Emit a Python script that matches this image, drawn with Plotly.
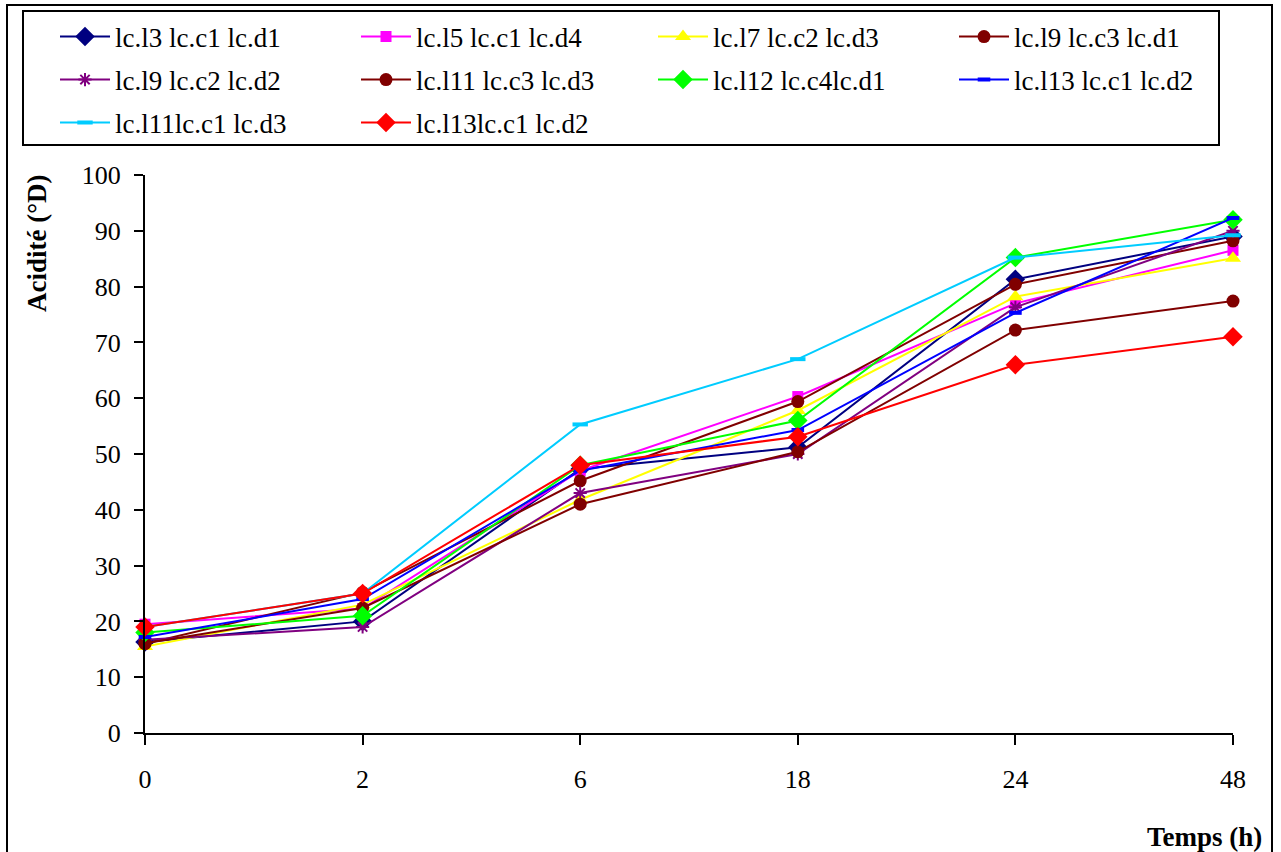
import plotly.graph_objects as go

W, H = 1281, 852
# plot-area pixel frame
L, R, T, B = 145, 1233, 175, 733

times = ["0", "2", "6", "18", "24", "48"]
names = ["lc.l3 lc.c1 lc.d1", "lc.l5 lc.c1 lc.d4", "lc.l7 lc.c2 lc.d3", "lc.l9 lc.c3 lc.d1",
         "lc.l9 lc.c2 lc.d2", "lc.l11 lc.c3 lc.d3", "lc.l12 lc.c4lc.d1", "lc.l13 lc.c1 lc.d2",
         "lc.l11lc.c1 lc.d3", "lc.l13lc.c1 lc.d2"]

s1 = [16.3, 20.0, 47.3, 51.2, 81.3, 89.0]
s2 = [19.5, 22.3, 47.0, 60.3, 77.0, 86.5]
s3 = [15.5, 23.0, 41.8, 57.8, 78.2, 85.1]
s4 = [16.0, 25.2, 45.2, 59.4, 80.4, 88.2]
s5 = [16.7, 19.0, 43.0, 50.0, 76.3, 90.0]
s6 = [16.1, 22.4, 41.0, 50.4, 72.2, 77.4]
s7 = [18.0, 21.0, 48.0, 56.0, 85.2, 92.0]
s8 = [17.2, 24.0, 47.0, 54.3, 75.3, 92.3]
s9 = [19.0, 25.0, 55.3, 67.0, 85.2, 89.2]
s10 = [19.0, 25.0, 48.0, 53.1, 66.0, 71.0]
series = [s1, s2, s3, s4, s5, s6, s7, s8, s9, s10]

colors = ["#000080", "#FF00FF", "#FFFF00", "#800000", "#800080",
          "#800000", "#00FF00", "#0000FF", "#00CCFF", "#FF0000"]
symbols = ["diamond", "square", "triangle-up", "circle", "asterisk",
           "circle", "diamond", "line-ew", "line-ew", "diamond"]
sizes = [15, 11, 14, 13, 11, 13, 15, 9, 11, 15]

FONT = "Liberation Serif"

# legend grid (pixels): column x of entry, row centre y
leg_cols = [55, 356, 653, 954]
leg_rows = [37, 80, 123]

def px2x(p):
    return (p - L) / (R - L)

def px2y(p):
    return (B - p) / (B - T)

fig = go.Figure()
xs = list(range(len(times)))
legend_layout = {}
for i, (nm, vals) in enumerate(zip(names, series)):
    sym = symbols[i]
    if sym in ("line-ew", "asterisk"):
        mk = dict(symbol=sym, size=sizes[i], color=colors[i],
                  line=dict(color=colors[i], width=4 if sym == "line-ew" else 2))
    else:
        mk = dict(symbol=sym, size=sizes[i], color=colors[i], line=dict(width=0))
    lname = "legend" if i == 0 else f"legend{i + 1}"
    fig.add_trace(go.Scatter(
        x=xs, y=vals, name=nm, mode="lines+markers",
        line=dict(color=colors[i], width=2), marker=mk,
        cliponaxis=False, legend=lname, showlegend=True))
    col, row = i % 4, i // 4
    legend_layout[lname] = dict(
        orientation="v", xref="container", yref="container",
        x=leg_cols[col] / W, y=1 - leg_rows[row] / H,
        xanchor="left", yanchor="middle", itemwidth=50,
        font=dict(family=FONT, size=27, color="black"),
        bgcolor="rgba(0,0,0,0)", borderwidth=0, visible=True)

fig.update_layout(
    width=W, height=H,
    margin=dict(l=L, r=W - R, t=T, b=H - B, pad=0, autoexpand=False),
    paper_bgcolor="white", plot_bgcolor="white",
    showlegend=True,
    font=dict(family=FONT, size=26, color="black"),
    xaxis=dict(range=[0, 5], tickmode="array", tickvals=xs, ticktext=times,
               showgrid=False, zeroline=False, showline=True, linecolor="black",
               linewidth=2, ticks="outside", ticklen=10, tickwidth=2, tickcolor="black",
               tickfont=dict(family=FONT, size=26, color="black"), ticklabelstandoff=12,
               automargin=False),
    yaxis=dict(range=[0, 100], dtick=10, tick0=0, showgrid=False, zeroline=False,
               showline=True, linecolor="black", linewidth=2, ticks="outside",
               ticklen=9, tickwidth=2, tickcolor="black",
               tickfont=dict(family=FONT, size=26, color="black"), ticklabelstandoff=8,
               automargin=False),
    shapes=[
        dict(type="rect", xref="paper", yref="paper", x0=px2x(7), x1=px2x(1272),
             y0=px2y(880), y1=px2y(5), line=dict(color="black", width=2),
             fillcolor="rgba(0,0,0,0)", layer="below"),
        dict(type="rect", xref="paper", yref="paper", x0=px2x(23), x1=px2x(1219),
             y0=px2y(145), y1=px2y(11), line=dict(color="black", width=2),
             fillcolor="rgba(0,0,0,0)", layer="below"),
    ],
    annotations=[
        dict(text="<b>Acidité (°D)</b>", xref="paper", yref="paper",
             x=px2x(37), y=px2y(243), textangle=-90, showarrow=False,
             xanchor="center", yanchor="middle",
             font=dict(family=FONT, size=27, color="black")),
        dict(text="<b>Temps (h)</b>", xref="paper", yref="paper",
             x=px2x(1264), y=px2y(837), showarrow=False,
             xanchor="right", yanchor="middle",
             font=dict(family=FONT, size=27, color="black")),
    ],
    **legend_layout,
)

fig.write_html("out.html")
